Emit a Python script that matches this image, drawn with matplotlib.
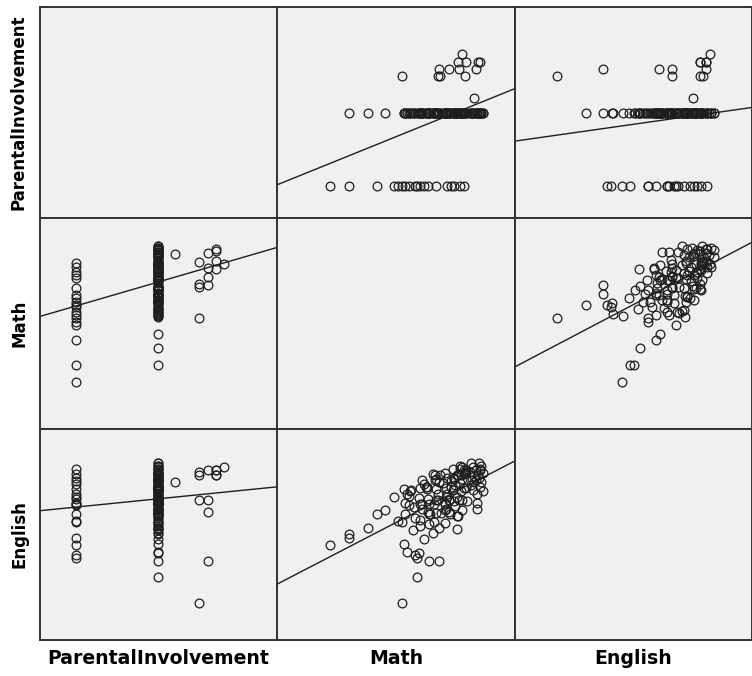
import numpy as np
import matplotlib
matplotlib.use("Agg")
import matplotlib.pyplot as plt

# variable names (order of the matrix)
names = ["ParentalInvolvement", "Math", "English"]

# students with parental involvement = 1
pi1_math = [22.2, 30.2, 42.1, 59.0, 58.0, 49.2, 50.8, 52.4, 54.0, 55.6, 60.3, 61.9, 63.5,
            66.7, 71.4, 73.0, 74.6, 77.0, 78.6]
pi1_eng = [45.2, 48.4, 59.5, 39.0, 40.5, 68.0, 56.3, 56.0, 65.0, 64.0, 64.3, 73.8, 67.0,
           71.4, 69.0, 75.4, 77.0, 81.0, 78.6]

# students with parental involvement = 2
pi2_math = [30.2, 38.4, 45.2, 59.0, 64.0, 59.5, 54.7, 53.5,
            53.2, 56.0, 55.3, 53.9, 60.2, 63.0, 65.8, 66.5, 60.2, 63.7, 64.5, 65.8,
            70.7, 75.6, 72.8, 75.6, 84.0, 84.0, 76.2, 77.8, 66.7, 70.6, 65.9, 61.1,
            59.5, 54.8, 56.3, 62.7, 61.1, 70.6, 72.2,
            57.0, 60.0, 62.0, 66.0, 68.0, 58.0, 61.0, 69.0, 64.0, 57.5,
            86.5, 85.5, 86.0, 85.0, 86.8, 85.5, 86.0, 85.0,
            82.5, 81.5, 82.0, 83.0, 81.0, 82.5, 81.5,
            78.0, 77.5, 78.5, 77.0, 78.0, 77.5, 78.5, 77.0,
            75.0, 74.5, 75.5, 74.0, 75.0, 74.5, 75.5, 74.0,
            71.0, 70.5, 71.5, 71.0, 70.0, 71.5, 70.5,
            67.0, 67.5, 66.5, 68.0, 67.0,
            63.5, 64.0, 63.0,
            80.0, 79.5, 83.5, 84.0, 79.0, 72.5, 73.0]
pi2_eng = [50.1, 53.0, 61.4, 30.0, 37.4, 41.0, 41.5, 45.5,
           71.7, 70.6, 68.3, 59.5, 72.0, 71.7, 78.6, 78.0, 57.1, 59.5, 59.5, 50.8,
           55.6, 52.4, 59.5, 58.7, 61.9, 65.1, 58.6, 61.4, 60.0, 61.4, 64.3, 64.3,
           67.1, 69.2, 71.3, 72.7, 75.6, 64.3, 66.4,
           52.0, 54.0, 48.0, 56.0, 53.0, 58.0, 62.0, 60.0, 55.0, 63.0,
           70.6, 72.7, 74.9, 77.0, 79.1, 81.2, 82.6, 83.8,
           71.3, 73.4, 75.6, 77.7, 79.8, 81.9, 84.0,
           66.4, 70.6, 72.0, 74.2, 76.3, 78.4, 80.5, 82.6,
           63.6, 65.7, 67.8, 71.3, 73.4, 76.3, 78.4, 81.2,
           62.1, 65.0, 67.8, 72.0, 74.2, 77.0, 79.1,
           66.4, 69.2, 75.6, 75.0, 76.5,
           60.7, 64.3, 72.7,
           66.0, 72.0, 76.0, 69.0, 79.0, 66.5, 72.5]

# students with higher involvement scores
hi_pi = [2.2, 2.5, 2.5, 2.5, 2.5, 2.6, 2.6, 2.6, 2.6, 2.7, 2.7, 2.7, 2.7, 2.8]
hi_math = [83.0, 52.4, 67.5, 68.5, 79.0, 68.2, 72.2, 76.5, 83.5, 76.0, 79.5, 84.5, 85.5, 78.0]
hi_eng = [75.0, 17.7, 66.4, 78.0, 79.4, 37.4, 60.7, 66.4, 80.8, 78.0, 80.8, 78.0, 80.8, 82.2]

limits = [(0.56, 3.45), (0, 100), (0, 100)]

pi = np.concatenate([np.ones(len(pi1_math)), 2 * np.ones(len(pi2_math)), hi_pi])
math_sc = np.concatenate([pi1_math, pi2_math, hi_math])
eng_sc = np.concatenate([pi1_eng, pi2_eng, hi_eng])
cols = [pi, math_sc, eng_sc]

fig, axes = plt.subplots(3, 3, figsize=(7.52, 6.76), dpi=100)
fig.subplots_adjust(left=40/752, right=1.0, top=1-7/676, bottom=1-640/676,
                    wspace=0, hspace=0)

for i in range(3):
    for j in range(3):
        ax = axes[i, j]
        ax.set_facecolor("#f0f0f0")
        ax.set_xlim(limits[j])
        ax.set_ylim(limits[i])
        ax.set_xticks([])
        ax.set_yticks([])
        for s in ax.spines.values():
            s.set_color("#333333")
            s.set_linewidth(1.4)
        if i == j:
            continue
        x, y = cols[j], cols[i]
        ax.plot(x, y, "o", ms=6.3, mfc="none", mec="#1e1e1e", mew=0.9)
        # linear fit line across the whole panel
        b, a = np.polyfit(x, y, 1)
        xx = np.array(limits[j])
        ax.plot(xx, a + b * xx, color="#1e1e1e", lw=1.0)

for i, name in enumerate(names):
    pos = axes[i, 0].get_position()
    fig.text(19/752, (pos.y0 + pos.y1) / 2, name, rotation=90, ha="center",
             va="center", fontsize=12, fontweight="bold", family="DejaVu Sans")
    pos = axes[2, i].get_position()
    fig.text((pos.x0 + pos.x1) / 2, 1 - 658/676, name, ha="center", va="center",
             fontsize=13.6, fontweight="bold", family="DejaVu Sans")

fig.savefig("out.png", dpi=100)
